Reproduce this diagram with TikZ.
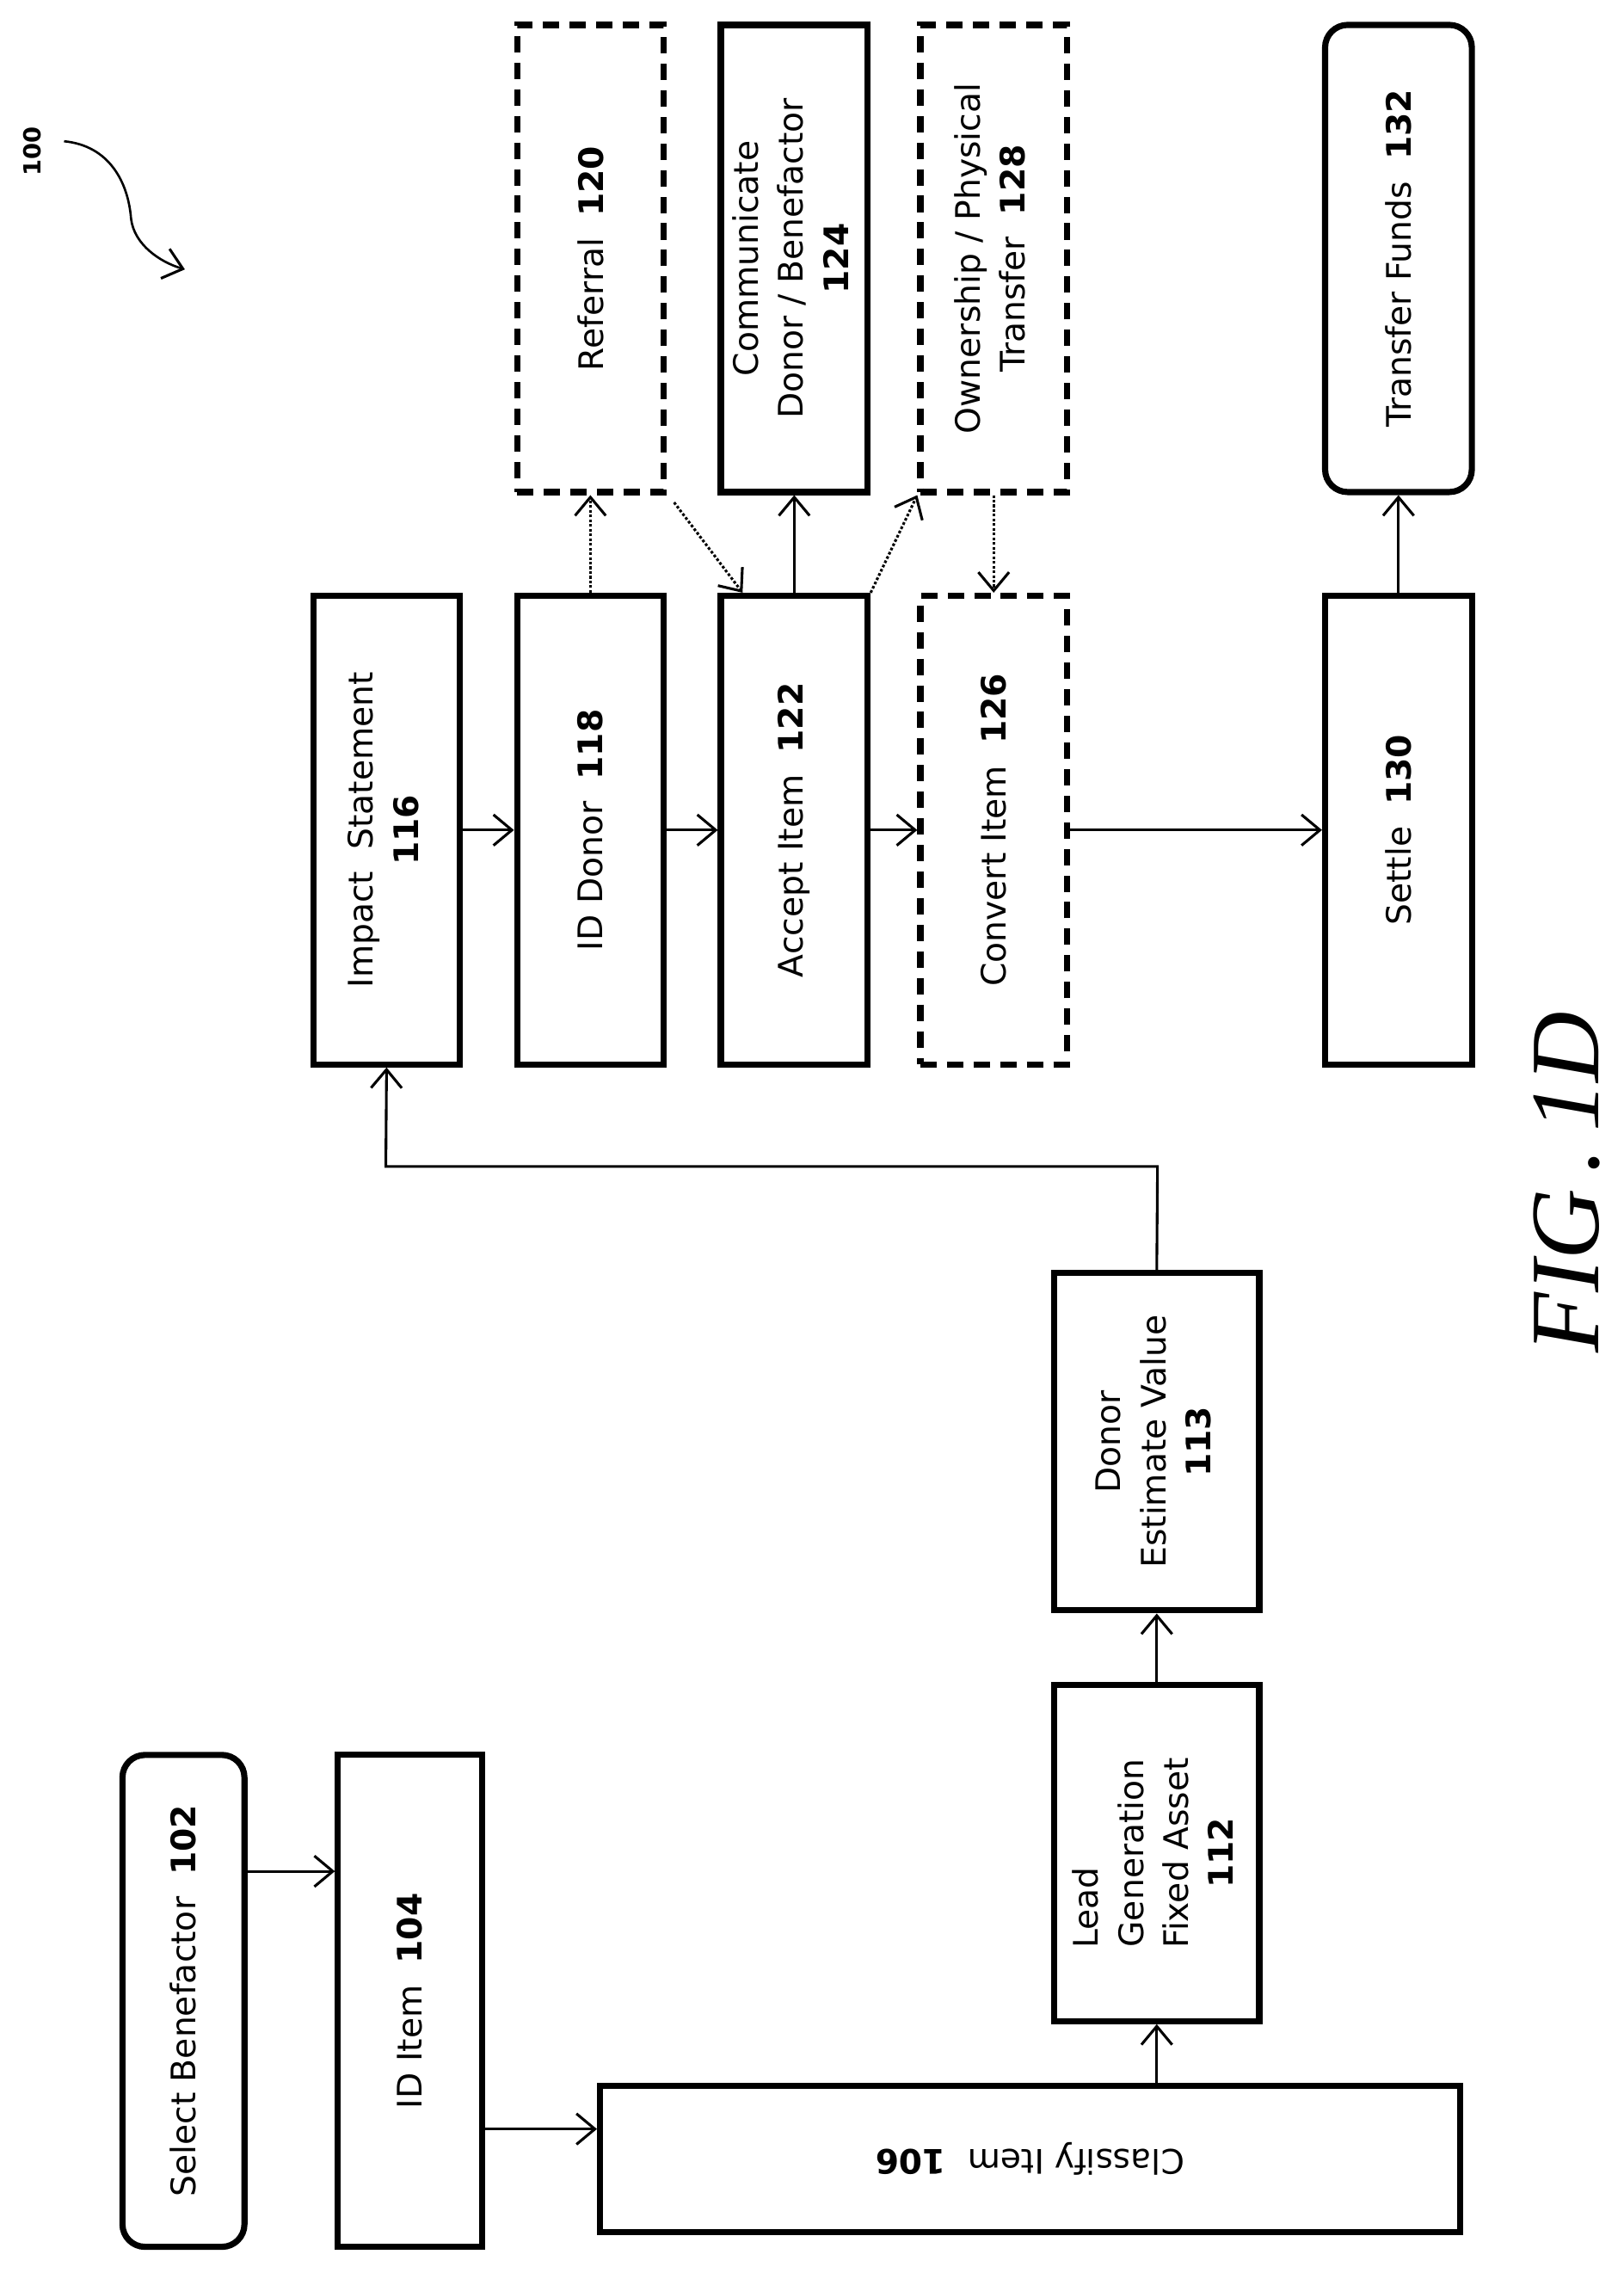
\documentclass[tikz,border=0pt]{standalone}
\usepackage{fontspec}
\setmainfont{DejaVu Sans}
\newfontfamily\figfont{Liberation Serif}
\usetikzlibrary{arrows.meta}
\begin{document}
\fontsize{33}{44}\selectfont
\begin{tikzpicture}[x=0.05cm,y=-0.05cm,
  box/.style={draw,line width=6pt,inner sep=0pt,align=center},
  dbox/.style={box,dash pattern=on 16pt off 10pt},
  rbox/.style={box,rounded corners=22pt},
  arr/.style={line width=2.6pt,-{Straight Barb[length=18pt,width=30pt,line width=2.6pt]}},
  dar/.style={arr,dotted}]
\useasboundingbox (0,0) rectangle (1115,1565);
\newcommand{\bx}[6]{\node[#1,minimum width=#4*0.05cm-6pt,minimum height=#5*0.05cm-6pt] (#2) at (#3) {\rotatebox{90}{#6}};}
\bx{rbox}{sel}{126,1374}{88}{342}{Select Benefactor\ \ \textbf{102}}
\bx{box}{idi}{281.5,1374}{103}{342}{ID Item\ \ \textbf{104}}
\node[box,minimum width=595*0.05cm-6pt,minimum height=105*0.05cm-6pt] (cls) at (707.5,1482.5) {\rotatebox{180}{Classify Item\ \ \textbf{106}}};
\bx{box}{lead}{794.5,1272.5}{145}{235}{\begin{tabular}{@{}c@{}}\multicolumn{1}{@{}l@{}}{Lead}\\Generation\\Fixed Asset\\\textbf{112}\end{tabular}}
\bx{box}{don}{794.5,990}{145}{236}{\begin{tabular}{@{}c@{}}Donor\\Estimate Value\\\textbf{113}\end{tabular}}
\bx{box}{imp}{265.5,570}{105}{326}{\begin{tabular}{@{}c@{}}Impact\ \ Statement\\\textbf{116}\end{tabular}}
\bx{box}{idd}{405.5,570}{105}{326}{ID Donor\ \ \textbf{118}}
\bx{box}{acc}{545.5,570}{105}{326}{Accept Item\ \ \textbf{122}}
\bx{dbox}{cnv}{682.5,570}{105}{326}{Convert Item\ \ \textbf{126}}
\bx{box}{set}{960.5,570}{105}{326}{Settle\ \ \textbf{130}}
\bx{dbox}{ref}{405.5,177.5}{105}{325}{Referral\ \ \textbf{120}}
\bx{box}{com}{545.5,177.5}{105}{325}{\begin{tabular}{@{}c@{}}Communicate\\Donor / Benefactor\\\textbf{124}\end{tabular}}
\bx{dbox}{own}{682.5,177.5}{105}{325}{\begin{tabular}{@{}c@{}}Ownership / Physical\\Transfer\ \ \textbf{128}\end{tabular}}
\bx{rbox}{tf}{960.5,177.5}{105}{325}{Transfer Funds\ \ \textbf{132}}
\coordinate (h1) at (795,801);
\coordinate (h2) at (265,801);
\draw[arr] (sel.east |- 0,1285) -- (idi.west |- 0,1285);
\draw[arr] (idi.east |- 0,1462) -- (cls.west |- 0,1462);
\draw[arr] (cls.north -| lead) -- (lead.south);
\draw[arr] (lead.north) -- (don.south);
\draw[arr] (don.north) -- (h1) -- (h2) -- (imp.south);
\draw[arr] (imp) -- (idd);
\draw[arr] (idd) -- (acc);
\draw[arr] (acc) -- (cnv);
\draw[arr] (cnv) -- (set);
\draw[arr] (set) -- (tf);
\draw[arr] (acc) -- (com);
\draw[dar] (idd) -- (ref);
\draw[dar] (ref.south east) ++(5,5) coordinate (r1) (r1) -- (acc.north west -| 510,0);
\draw[dar] (acc.north east) -- (own.south west);
\draw[dar] (own) -- (cnv);
\node[rotate=90,font=\bfseries\fontsize{23}{26}\selectfont] (lbl) at (22,104) {100};
\coordinate (c1) at (127,185);
\draw[arr,line width=2.2pt] (44,97) .. controls (75,100) and (88,125) .. (90,150) .. controls (92,168) and (110,180) .. (c1);
\node[rotate=90,font=\figfont\itshape\fontsize{96}{104}\selectfont] (fig) at (1076,812) {FIG\,.\,1D};
\end{tikzpicture}
\end{document}
